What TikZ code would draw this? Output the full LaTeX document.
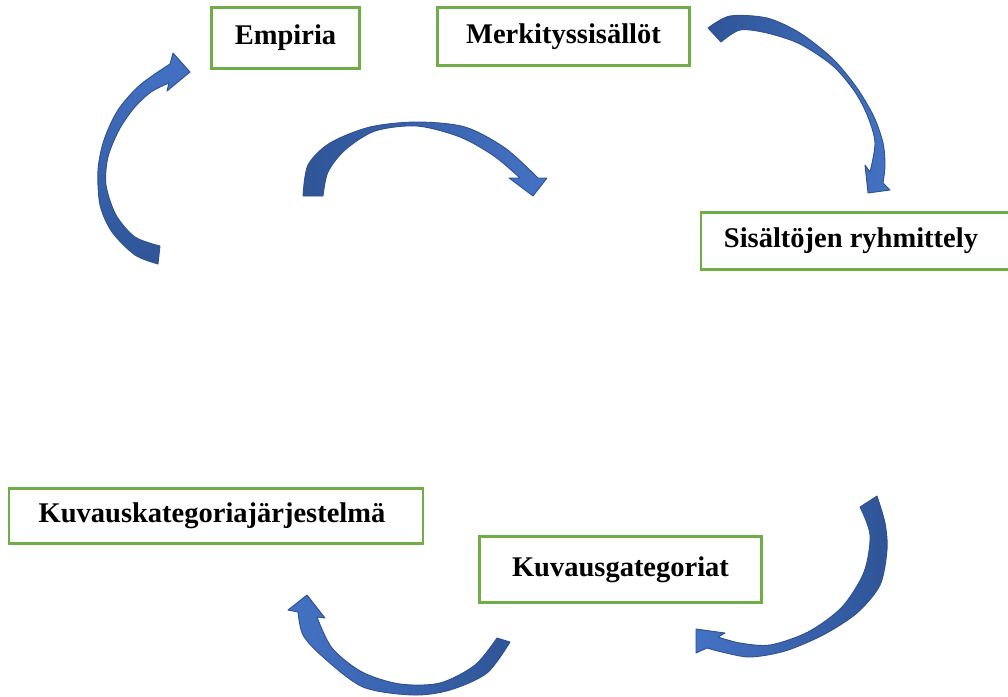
\documentclass[tikz,border=0pt]{standalone}
\usepackage{fontspec}
\setmainfont{Liberation Serif}
\definecolor{boxgreen}{HTML}{70AD47}
\definecolor{arrowlight}{HTML}{4472C4}
\definecolor{arrowdark}{HTML}{2F5597}
\definecolor{arrowedge}{HTML}{2F528F}
\begin{document}
\begin{tikzpicture}[x=1pt,y=-1pt,
  box/.style={draw=boxgreen, line width=2.6pt, inner sep=0pt,
    font=\fontsize{28.5}{34}\selectfont\bfseries},
  band/.style={draw=arrowedge, line width=0.9pt, line join=round}]
\useasboundingbox (0,0) rectangle (1008,696);

% text boxes
\node[box, minimum width=148pt, minimum height=61pt] (empiria) at (285.5,38) {Empiria};
\node[box, minimum width=252pt, minimum height=58pt] (merkitys) at (563.5,36.5) {Merkityssisällöt};
\node[box, minimum width=312pt, minimum height=57pt] (ryhmittely) at (857,241)
  {\hspace*{-12pt}Sisältöjen ryhmittely};
\node[box, minimum width=414pt, minimum height=55pt] (jarjestelma) at (216,516)
  {\hspace*{-8pt}Kuvauskategoriajärjestelmä};
\node[box, minimum width=282pt, minimum height=66pt] (kategoriat) at (620.5,569.5) {Kuvausgategoriat};

% curved block arrows
\shade[band, top color=arrowlight, bottom color=arrowdark]
  plot[smooth] coordinates {(158,264) (135,255) (112,232) (100,205) (98,170) (104,140) (118,110) (140,85) (170,64)}
  -- (173,53) -- (190,72) -- (167,91) --
  plot[smooth] coordinates {(169,83) (151,92) (134,108) (119,130) (108,157) (106,185) (116,215) (135,237) (160,246)}
  -- cycle;

\shade[band, left color=arrowdark, right color=arrowlight]
  plot[smooth] coordinates {(303,196) (308,165) (330,143) (370,127) (417,122) (465,127) (505,148) (538,178)}
  -- (547,178) -- (533,196) -- (509,178) --
  plot[smooth] coordinates {(520,178) (494,156) (460,137) (417,126) (375,131) (345,150) (328,172) (323,196)}
  -- cycle;

\shade[band, left color=arrowdark, right color=arrowlight]
  plot[smooth] coordinates {(708,28) (730,16) (767,18) (800,33) (833,59) (857,88) (874,117) (883,143) (885,165) (883,183)}
  -- (890,190) -- (868,193) -- (865,165) --
  plot[smooth] coordinates {(870,172) (875,143) (868,117) (855,92) (833,66) (800,44) (767,33) (740,30) (721,42)}
  -- cycle;

\shade[band, left color=arrowlight, right color=arrowdark]
  plot[smooth] coordinates {(877,496) (885,523) (887,550) (880,585) (857,613) (823,635) (785,651) (750,657) (722,652) (707,648)}
  -- (696,653) -- (696,629) -- (725,633) --
  plot[smooth] coordinates {(718,637) (740,643) (770,645) (808,632) (842,607) (864,572) (870,535) (860,507)}
  -- cycle;

\shade[band, left color=arrowlight, right color=arrowdark]
  plot[smooth] coordinates {(510,642) (487,673) (450,690) (413,695) (363,687) (323,657) (303,635) (298,612)}
  -- (288,610) -- (307,595) -- (325,618) --
  plot[smooth] coordinates {(317,617) (332,648) (362,672) (400,684) (440,683) (475,665) (497,638)}
  -- cycle;
\end{tikzpicture}
\end{document}
